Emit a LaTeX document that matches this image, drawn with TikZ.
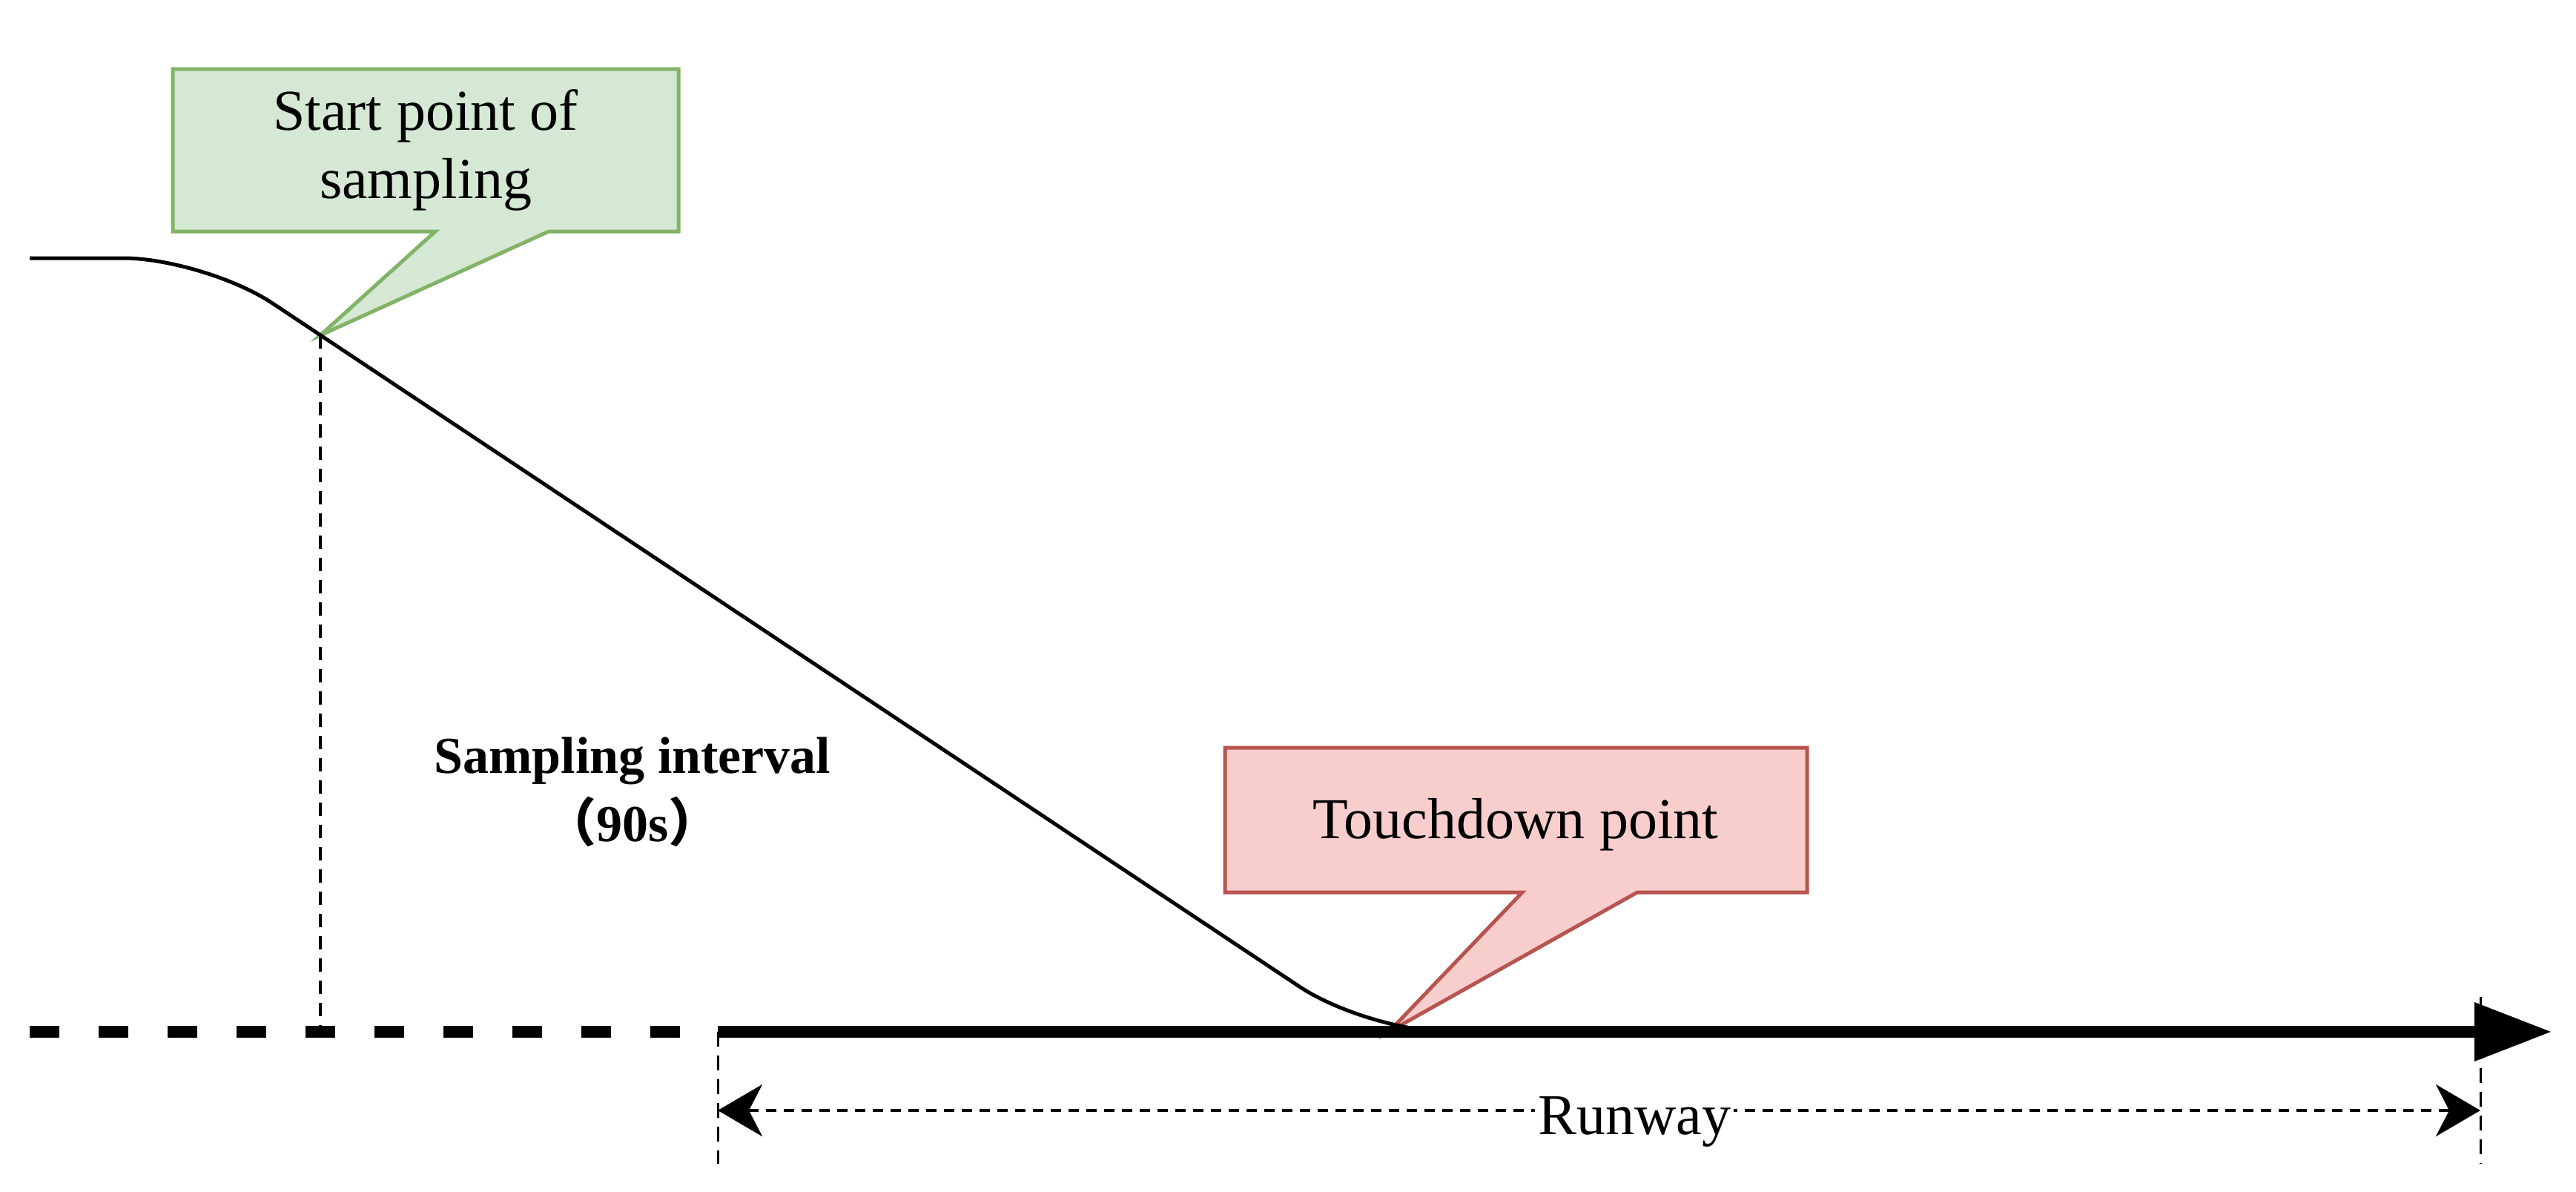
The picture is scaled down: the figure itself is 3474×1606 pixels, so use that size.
\documentclass[tikz,border=0pt]{standalone}
\usepackage{fontspec}
\setmainfont{Liberation Serif}
\newfontfamily\cjk{Noto Sans CJK SC}
\usetikzlibrary{arrows.meta}
\definecolor{gfill}{HTML}{D5E8D4}\definecolor{gline}{HTML}{82B366}
\definecolor{rfill}{HTML}{F8CECC}\definecolor{rline}{HTML}{B85450}
\begin{document}
\begin{tikzpicture}[x=1pt,y=-1pt,
  callout/.style={line width=5pt,line join=miter},
  lbl/.style={font=\fontsize{78}{92}\selectfont,align=center,inner sep=0}]
\useasboundingbox (0,0) rectangle (3474,1606);
% callouts
\coordinate (s) at (432,452);
\coordinate (t) at (1873,1391);
\draw[callout,draw=gline,fill=gfill] (233,93) -- (915,93) -- (915,312) -- (740,312) -- (s) -- (587,312) -- (233,312) -- cycle;
\node[lbl] (sl) at (574,202) {Start point of\\sampling};
\draw[callout,draw=rline,fill=rfill] (1652,1008) -- (2437,1008) -- (2437,1203) -- (2208,1203) -- (t) -- (2053,1203) -- (1652,1203) -- cycle;
\node[lbl] (tl) at (2044,1112) {Touchdown point};
% trajectory
\draw[line width=5pt,rounded corners=110pt] (40,348) -- (276,348) -- (1844,1391) -- (1950,1391);
% vertical dashed
\coordinate (sb) at (432,1391);
\draw[line width=4pt,dash pattern=on 18pt off 12pt] (s) -- (sb);
% ground
\coordinate (g0) at (40,1391); \coordinate (g1) at (968,1391); \coordinate (g2) at (3337,1391);
\draw[line width=16pt,dash pattern=on 40pt off 53pt] (g0) -- (g1);
\draw[line width=16pt] (g1) -- (g2);
\fill (3337,1351) -- (3440,1391) -- (3337,1431) -- cycle;
% runway dimension
\coordinate (r0) at (968,1569); \coordinate (r1) at (3345,1569);
\draw[line width=3pt,dash pattern=on 20pt off 12pt] (968,1391) -- (r0);
\draw[line width=3pt,dash pattern=on 20pt off 12pt] (3345,1344) -- (r1);
\coordinate (a0) at (968,1497); \coordinate (a1) at (3345,1497);
\draw[line width=4pt,dash pattern=on 14pt off 10pt,{Stealth[length=60pt,width=70pt,inset=18pt]}-{Stealth[length=60pt,width=70pt,inset=18pt]}] (a0) -- (a1);
\node[lbl,fill=white,inner xsep=4pt] (rw) at (2204,1512) {Runway};
% sampling interval
\node[lbl,font=\bfseries\fontsize{70}{92}\selectfont] (si) at (853,1068) {Sampling interval\\{\cjk （}90s{\cjk ）}};
\end{tikzpicture}
\end{document}
